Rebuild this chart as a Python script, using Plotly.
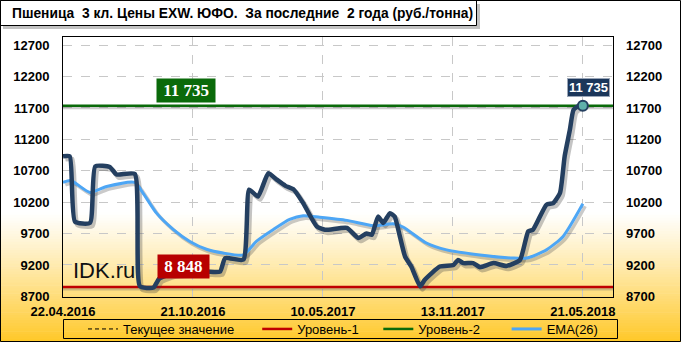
import plotly.graph_objects as go

# ---------------- data ----------------
price_x = [0, 1.3, 2.3, 5.2, 6.2, 9, 10.3, 13.8, 14.8, 17.4, 18.5, 21, 25, 27.6, 30.2, 31.2, 34.7,
           35.8, 37.5, 39.5, 41.1, 42.8, 44.4, 46.2, 48.8, 50.4, 54.6, 56.8, 58.4, 59.4, 60.6,
           61.6, 62.9, 63.8, 64.8, 65.8, 67, 68.7, 69.6, 72.5, 75.1, 76, 77, 78.9, 80.2, 82.8,
           85.3, 87.9, 89.5, 90.4, 93, 94.3, 95.6, 96.5, 97.5, 98.2, 99.2, 100]
price_y = [10930, 10930, 9890, 9870, 10770, 10760, 10640, 10650, 8860, 8840, 8980, 9060, 9080,
           9095, 9095, 9310, 9285, 10400, 10290, 10660, 10560, 10460, 10400, 10185, 9815, 9760,
           9790, 9630, 9700, 9680, 9970, 9870, 10025, 9970, 9655, 9335, 9175, 8860, 8965, 9175,
           9200, 9280, 9230, 9230, 9165, 9230, 9185, 9280, 9735, 9760, 10160, 10185, 10345,
           10930, 11350, 11670, 11735, 11735]

ema_x = [0, 1.5, 5.2, 8.4, 13.8, 15.4, 18, 21.3, 24.4, 27.6, 30.8, 34.7, 37.2, 40.4, 43.6, 46.2,
         49.4, 54.6, 59.7, 63.5, 65.4, 69.9, 73.8, 80.2, 86.6, 89.2, 93, 96.2, 100]
ema_y = [10515, 10545, 10355, 10450, 10515, 10345, 10025, 9760, 9575, 9450, 9390, 9360, 9575,
         9760, 9925, 9985, 9960, 9910, 9825, 9855, 9805, 9550, 9440, 9360, 9310, 9310, 9440,
         9655, 10175]

level1 = 8848
level2 = 11735
current_value = 11735
last_x = 100

x_tick_pos = [0, 25, 50, 75, 100]
x_tick_labels = ["22.04.2016", "21.10.2016", "10.05.2017", "13.11.2017", "21.05.2018"]
y_ticks = [8700, 9200, 9700, 10200, 10700, 11200, 11700, 12200, 12700]
y_tick_labels = ["8700", "9200", "9700", "10200", "10700", "11200", "11700", "12200", "12700"]

title_text = "Пшеница  3 кл. Цены EXW. ЮФО.  За последние  2 года (руб./тонна)"
legend_names = ["Текущее значение", "Уровень-1", "Уровень-2", "EMA(26)"]

# ---------------- layout geometry ----------------
W, H = 681, 342
L, R, T, B = 63, 613, 37, 297
X_RANGE = [0, 105.8]
Y_RANGE = [8690, 12830]


def px(x):
    return (x - L) / (R - L)


def py(y):
    return (B - y) / (B - T)


NB = "\u00a0"
NAVY = "#243F60"
EMA_C = "#4DA6F5"
RED = "#C00000"
GREEN = "#0A6A0A"

fig = go.Figure()

shapes = []
# background gradient (white -> gold), bottom part of the figure
N = 48
g0, g1 = 212, 342
for i in range(N):
    y0 = g0 + (g1 - g0) * i / N
    y1 = g0 + (g1 - g0) * (i + 1) / N + 0.6
    t = ((i + 0.5) / N) ** 1.1
    r = 255
    g = round(255 - t * (255 - 200))
    b = round(255 - t * (255 - 40))
    shapes.append(dict(type="rect", xref="paper", yref="paper", layer="below",
                       x0=px(-2), x1=px(W + 2), y0=py(y1), y1=py(y0),
                       line=dict(width=0), fillcolor=f"rgb({r},{g},{b})"))

# title box shadow and box
shapes.append(dict(type="rect", xref="paper", yref="paper", layer="below",
                   x0=px(3), x1=px(480), y0=py(29), y1=py(4),
                   line=dict(width=0), fillcolor="rgba(120,120,120,0.45)"))
shapes.append(dict(type="rect", xref="paper", yref="paper", layer="below",
                   x0=px(0.5), x1=px(476.5), y0=py(25.5), y1=py(0.5),
                   line=dict(width=1, color="black"), fillcolor="white"))
# legend box
shapes.append(dict(type="rect", xref="paper", yref="paper", layer="below",
                   x0=px(63.5), x1=px(617.5), y0=py(338.5), y1=py(319.5),
                   line=dict(width=1, color="black"), fillcolor="rgba(0,0,0,0)"))
# outer frame
shapes.append(dict(type="rect", xref="paper", yref="paper", layer="above",
                   x0=px(0.5), x1=px(680.5), y0=py(341.5), y1=py(0.5),
                   line=dict(width=1, color="black"), fillcolor="rgba(0,0,0,0)"))

# ---------------- traces ----------------
fig.add_trace(go.Scatter(x=X_RANGE, y=[current_value, current_value], mode="lines",
                         name=legend_names[0] + NB * 5, legendrank=1,
                         line=dict(color="black", width=1, dash="4px,3px"), hoverinfo="skip"))
for lv in (level1, level2):
    fig.add_trace(go.Scatter(x=X_RANGE, y=[lv - 30, lv - 30], mode="lines", showlegend=False,
                             line=dict(color="rgba(90,90,90,0.3)", width=3), hoverinfo="skip"))
fig.add_trace(go.Scatter(x=X_RANGE, y=[level1, level1], mode="lines",
                         name=legend_names[1] + NB * 4,
                         legendrank=2, line=dict(color=RED, width=2.5), hoverinfo="skip"))
fig.add_trace(go.Scatter(x=X_RANGE, y=[level2, level2], mode="lines",
                         name=legend_names[2] + NB * 6,
                         legendrank=3, line=dict(color=GREEN, width=2.5), hoverinfo="skip"))

fig.add_trace(go.Scatter(x=[v + 0.45 for v in ema_x], y=[v - 40 for v in ema_y], mode="lines",
                         showlegend=False, hoverinfo="skip",
                         line=dict(color="rgba(80,80,80,0.3)", width=3.5, shape="spline", smoothing=0.6)))
fig.add_trace(go.Scatter(x=[v + 0.45 for v in price_x], y=[v - 45 for v in price_y], mode="lines",
                         showlegend=False, hoverinfo="skip",
                         line=dict(color="rgba(60,60,60,0.3)", width=5, shape="spline", smoothing=0.5)))

fig.add_trace(go.Scatter(x=ema_x, y=ema_y, mode="lines", name=legend_names[3], legendrank=4,
                         line=dict(color=EMA_C, width=3, shape="spline", smoothing=0.6)))
fig.add_trace(go.Scatter(x=price_x, y=price_y, mode="lines", showlegend=False,
                         line=dict(color=NAVY, width=4.5, shape="spline", smoothing=0.5)))
fig.add_trace(go.Scatter(x=[last_x], y=[current_value], mode="markers", showlegend=False,
                         marker=dict(size=10, color="#5FB0AA", line=dict(color=NAVY, width=2))))
fig.add_trace(go.Scatter(x=[0], y=[Y_RANGE[0]], yaxis="y2", mode="markers", showlegend=False,
                         hoverinfo="skip", marker=dict(color="rgba(0,0,0,0)")))

# ---------------- annotations ----------------
annotations = [
    dict(text="<b>" + title_text + "</b>", xref="paper", yref="paper", x=px(10), y=py(13),
         xanchor="left", yanchor="middle", showarrow=False,
         font=dict(family="Liberation Sans", size=13.8, color="black")),
    dict(text="IDK.ru", xref="paper", yref="paper", x=px(71), y=py(270), xanchor="left",
         yanchor="middle", showarrow=False,
         font=dict(family="Liberation Sans", size=22, color="#111111")),
    dict(text="<b>" + NB + "11 735" + NB + "</b>", xref="x", yref="y", x=23.7, y=level2,
         yanchor="bottom", yshift=3, showarrow=False, bgcolor=GREEN, borderpad=2,
         font=dict(family="Liberation Serif", size=17, color="white")),
    dict(text="<b>" + NB + "8 848" + NB + "</b>", xref="x", yref="y", x=23.2, y=level1,
         yanchor="bottom", yshift=8, showarrow=False, bgcolor="#B80000", borderpad=2,
         font=dict(family="Liberation Serif", size=17, color="white")),
    dict(text="<b>11 735</b>", xref="x", yref="y", x=last_x + 1, y=current_value, yanchor="bottom",
         yshift=9, showarrow=False, bgcolor="#1B365A", bordercolor="#9AA6B8", borderwidth=1,
         borderpad=1, font=dict(family="Liberation Sans", size=13, color="white")),
]

tickfont = dict(family="Liberation Sans", size=13, color="black", weight="bold")

fig.update_layout(
    width=W, height=H,
    margin=dict(l=L, r=W - R, t=T, b=H - B, pad=0, autoexpand=False),
    paper_bgcolor="white", plot_bgcolor="rgba(0,0,0,0)",
    shapes=shapes, annotations=annotations,
    showlegend=True,
    legend=dict(orientation="h", x=px(83), y=py(314), xanchor="left", yanchor="top",
                bgcolor="rgba(0,0,0,0)", borderwidth=0, traceorder="normal",
                font=dict(family="Liberation Sans", size=13, color="black"),
                itemwidth=30, tracegroupgap=0),
    xaxis=dict(range=X_RANGE, tickmode="array", tickvals=x_tick_pos, ticktext=x_tick_labels,
               showgrid=True, gridcolor="#C8C8C8", griddash="dash", gridwidth=1,
               showline=True, linecolor="black", linewidth=1, mirror=True,
               zeroline=False, ticks="", tickfont=tickfont, ticklabelstandoff=2),
    yaxis=dict(range=Y_RANGE, tickmode="array", tickvals=y_ticks, ticktext=y_tick_labels,
               showgrid=True, gridcolor="#C8C8C8", griddash="dash", gridwidth=1,
               showline=True, linecolor="black", linewidth=1, mirror=True,
               zeroline=False, ticks="", tickfont=tickfont, ticklabelstandoff=10),
    yaxis2=dict(range=Y_RANGE, overlaying="y", side="right", tickmode="array", tickvals=y_ticks,
                ticktext=y_tick_labels, showgrid=False, zeroline=False, showline=False,
                ticks="", tickfont=tickfont, ticklabelstandoff=12),
    hovermode=False,
)

fig.write_html("out.html")
